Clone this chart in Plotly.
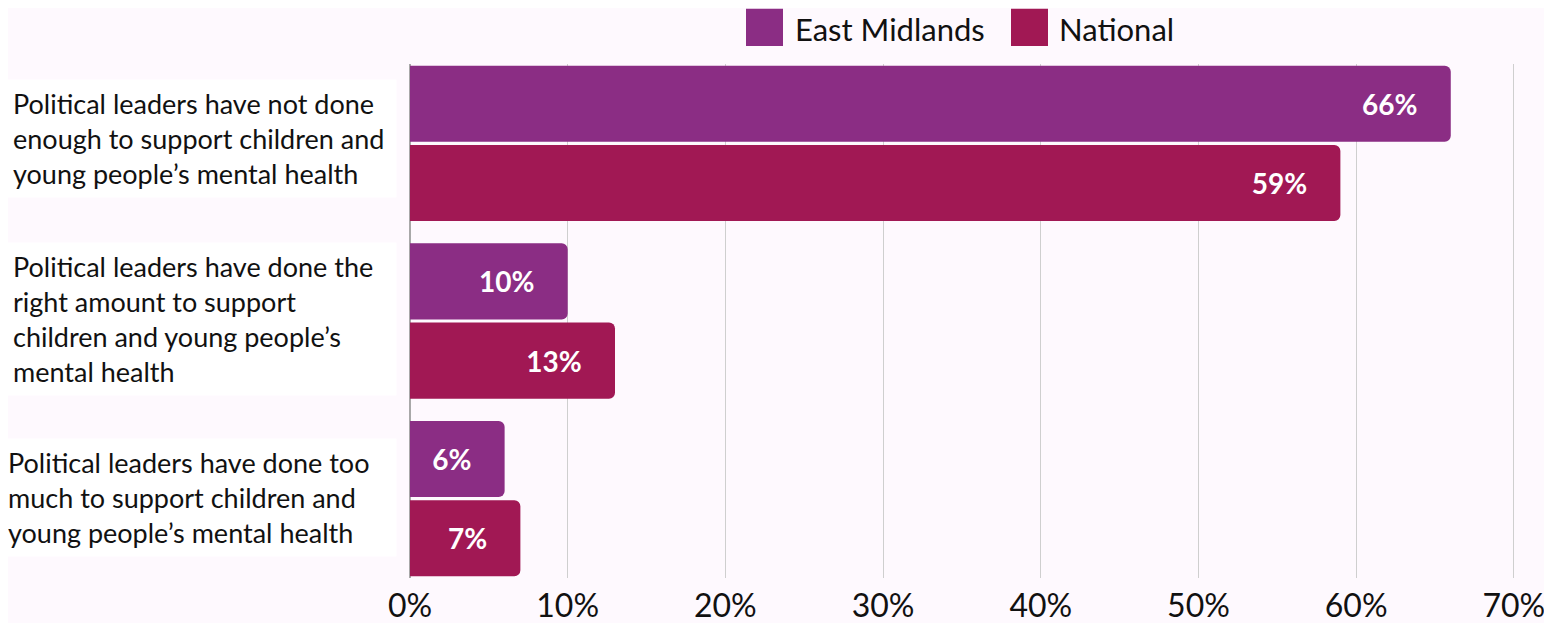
import plotly.graph_objects as go

categories = [
    "Political leaders have not done<br>enough to support children and<br>young people’s mental health",
    "Political leaders have done the<br>right amount to support<br>children and young people’s<br>mental health",
    "Political leaders have done too<br>much to support children and<br>young people’s mental health",
]
series_names = ["East Midlands", "National"]
east_midlands = [66, 10, 6]
national = [59, 13, 7]
tick_vals = [0, 10, 20, 30, 40, 50, 60, 70]
tick_text = ["0%", "10%", "20%", "30%", "40%", "50%", "60%", "70%"]

colors = ["#8B2D84", "#A11854"]
bg = "#fef9fe"
font_family = "Lato"
pad = "\u00a0" * 4

ypos = list(range(len(categories)))

fig = go.Figure()
for name, vals, col in zip(series_names, [east_midlands, national], colors):
    fig.add_trace(go.Bar(
        y=ypos, x=vals, orientation="h", name=name,
        marker=dict(color=col, line=dict(width=0)),
        text=[f"{v}%{pad}" for v in vals],
        textposition="inside", insidetextanchor="end",
        textfont=dict(color="white", size=28, family=font_family, weight="bold"),
        textangle=0, constraintext="none",
        showlegend=False, hoverinfo="skip",
    ))

annotations = []
label_x = [6, 6, 1]
label_shift = [5, 2, 1]
for i, (c, lx, ys) in enumerate(zip(categories, label_x, label_shift)):
    annotations.append(dict(
        xref="paper", yref="y", x=(lx - 410) / 1104, y=i, yshift=ys,
        xanchor="left", yanchor="middle", align="left",
        text=c, showarrow=False, bgcolor="white", borderpad=7,
        width=380 - lx + 2,
        font=dict(size=27, family=font_family, color="#111111"),
    ))

# custom legend
shapes = []
leg_x = [(746, 783), (1011, 1048)]
leg_text_x = [793, 1057]
for (x0, x1), tx, name, col in zip(leg_x, leg_text_x, series_names, colors):
    shapes.append(dict(
        type="rect", xref="paper", yref="paper",
        x0=(x0 - 410) / 1107, x1=(x1 - 410) / 1107,
        y0=(578 - 48) / 512, y1=(578 - 11) / 512,
        fillcolor=col, line=dict(width=0), layer="above",
    ))
    annotations.append(dict(
        xref="paper", yref="paper", x=(tx - 410) / 1107, y=(578 - 31) / 512,
        xanchor="left", yanchor="middle", text=name, showarrow=False,
        font=dict(size=31, family=font_family, color="#111111"),
    ))

# page has an 8px body margin at left/top
fig.update_layout(
    width=1544, height=615,
    paper_bgcolor=bg, plot_bgcolor=bg,
    margin=dict(l=402, r=35, t=56, b=45),
    barmode="group", bargap=0.107, bargroupgap=0.04,
    barcornerradius=6,
    annotations=annotations, shapes=shapes,
    xaxis=dict(
        range=[0, 70.2], tickvals=tick_vals, ticktext=tick_text,
        showgrid=True, gridcolor="#cfcfcf", gridwidth=1,
        zeroline=True, zerolinecolor="#a8a8a8", zerolinewidth=2,
        tickfont=dict(size=32, family=font_family, color="#111111"),
        ticks="", showline=False, fixedrange=True,
        automargin=False, ticklabeloverflow="allow", ticklabelstandoff=6,
    ),
    yaxis=dict(
        range=[2.447, -0.447], showticklabels=False, showgrid=False,
        zeroline=False, ticks="", fixedrange=True, automargin=False,
    ),
)

fig.write_html("out.html")
